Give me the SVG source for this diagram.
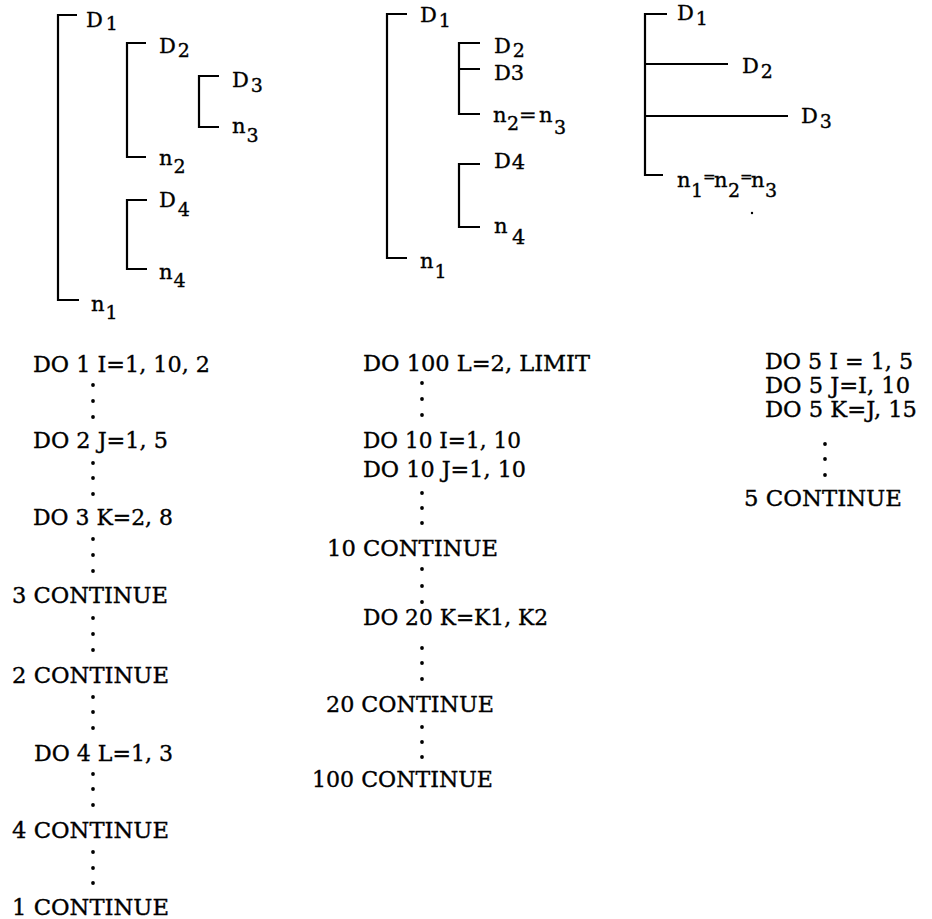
<svg xmlns="http://www.w3.org/2000/svg" width="932" height="919" viewBox="0 0 932 919">
<style>
.br{fill:none;stroke:#000;stroke-width:2.2;stroke-linecap:butt;stroke-linejoin:miter}
.lb{font-family:"DejaVu Serif","Liberation Serif",serif;font-size:21px;fill:#000;stroke:#000;stroke-width:0.35}
.sb{font-size:19px}
.eq{font-size:15px}
.cd{font-family:"DejaVu Serif","Liberation Serif",serif;font-size:22px;fill:#000;stroke:#000;stroke-width:0.35}
.dt{fill:#000}
</style>
<rect width="932" height="919" fill="#fff"/>
<g id="connectors">
  <path class="br" d="M77,15 H58 V300 H79"/>
  <path class="br" d="M146,43 H127 V157 H146"/>
  <path class="br" d="M219,76 H199 V127 H219"/>
  <path class="br" d="M147,200 H127 V269 H147"/>
  <path class="br" d="M407,14 H387 V258 H407"/>
  <path class="br" d="M480,43 H459 V114 H480 M459,69 H480"/>
  <path class="br" d="M480,164 H459 V227 H480"/>
  <path class="br" d="M667,14 H645 V175 H663 M645,64 H728 M645,116 H788"/>
</g>
<g id="diagram-left">
  <text class="lb" x="86" y="27">D<tspan class="sb" dx="3" dy="3">1</tspan></text>
  <text class="lb" x="159" y="53">D<tspan class="sb" dx="2" dy="4">2</tspan></text>
  <text class="lb" x="232" y="87">D<tspan class="sb" dx="2" dy="5">3</tspan></text>
  <text class="lb" x="232" y="133">n<tspan class="sb" dx="1" dy="9">3</tspan></text>
  <text class="lb" x="159" y="165">n<tspan class="sb" dx="1" dy="8">2</tspan></text>
  <text class="lb" x="159" y="207">D<tspan class="sb" dx="2" dy="9">4</tspan></text>
  <text class="lb" x="159" y="279">n<tspan class="sb" dx="1" dy="8">4</tspan></text>
  <text class="lb" x="91" y="311">n<tspan class="sb" dx="1" dy="8">1</tspan></text>
</g>
<g id="diagram-middle">
  <text class="lb" x="420" y="22">D<tspan class="sb" dx="2" dy="5">1</tspan></text>
  <text class="lb" x="494" y="53">D<tspan class="sb" dx="2" dy="4">2</tspan></text>
  <text class="lb" x="494" y="80">D3</text>
  <text class="lb" x="493" y="122">n<tspan class="sb" x="507" dy="8">2</tspan><tspan x="519" dy="-8">=</tspan><tspan x="539">n</tspan><tspan class="sb" x="554" dy="12">3</tspan></text>
  <text class="lb" x="494" y="168">D<tspan dx="1" dy="1">4</tspan></text>
  <text class="lb" x="494" y="233">n<tspan x="512" dy="11">4</tspan></text>
  <text class="lb" x="420" y="268">n<tspan class="sb" dx="1" dy="10">1</tspan></text>
</g>
<g id="diagram-right">
  <text class="lb" x="677" y="20">D<tspan class="sb" dx="2" dy="5">1</tspan></text>
  <text class="lb" x="742" y="73">D<tspan class="sb" dx="2" dy="5">2</tspan></text>
  <text class="lb" x="801" y="123">D<tspan class="sb" dx="2" dy="5">3</tspan></text>
  <text class="lb" x="677" y="187">n<tspan class="sb" x="691" dy="10">1</tspan><tspan class="eq" x="703" dy="-15">=</tspan><tspan x="714" dy="5">n</tspan><tspan class="sb" x="728" dy="10">2</tspan><tspan class="eq" x="740" dy="-15">=</tspan><tspan x="751" dy="5">n</tspan><tspan class="sb" x="765" dy="10">3</tspan></text>
  <circle class="dt" cx="752" cy="213" r="1.2"/>
</g>
<g id="code-left">
  <text class="cd" x="33" y="372" textLength="177" lengthAdjust="spacingAndGlyphs">DO 1 I=1, 10, 2</text>
  <text class="cd" x="33" y="448" textLength="135" lengthAdjust="spacingAndGlyphs">DO 2 J=1, 5</text>
  <text class="cd" x="33" y="525" textLength="140" lengthAdjust="spacingAndGlyphs">DO 3 K=2, 8</text>
  <text class="cd" x="12" y="603" textLength="156" lengthAdjust="spacingAndGlyphs">3 CONTINUE</text>
  <text class="cd" x="12" y="683" textLength="157" lengthAdjust="spacingAndGlyphs">2 CONTINUE</text>
  <text class="cd" x="34" y="761" textLength="139" lengthAdjust="spacingAndGlyphs">DO 4 L=1, 3</text>
  <text class="cd" x="12" y="838" textLength="157" lengthAdjust="spacingAndGlyphs">4 CONTINUE</text>
  <text class="cd" x="12" y="915" textLength="157" lengthAdjust="spacingAndGlyphs">1 CONTINUE</text>
  <g class="dt">
    <circle cx="93" cy="385" r="1.9"/><circle cx="93" cy="401" r="1.9"/><circle cx="93" cy="417" r="1.9"/>
    <circle cx="93" cy="463" r="1.9"/><circle cx="93" cy="478" r="1.9"/><circle cx="93" cy="494" r="1.9"/>
    <circle cx="93" cy="539" r="1.9"/><circle cx="93" cy="555" r="1.9"/><circle cx="93" cy="571" r="1.9"/>
    <circle cx="93" cy="618" r="1.9"/><circle cx="93" cy="634" r="1.9"/><circle cx="93" cy="650" r="1.9"/>
    <circle cx="93" cy="697" r="1.9"/><circle cx="93" cy="712" r="1.9"/><circle cx="93" cy="728" r="1.9"/>
    <circle cx="93" cy="774" r="1.9"/><circle cx="93" cy="789" r="1.9"/><circle cx="93" cy="805" r="1.9"/>
    <circle cx="93" cy="852" r="1.9"/><circle cx="93" cy="868" r="1.9"/><circle cx="93" cy="883" r="1.9"/>
  </g>
</g>
<g id="code-middle">
  <text class="cd" x="363" y="371" textLength="227" lengthAdjust="spacingAndGlyphs">DO 100 L=2, LIMIT</text>
  <text class="cd" x="363" y="448" textLength="158" lengthAdjust="spacingAndGlyphs">DO 10 I=1, 10</text>
  <text class="cd" x="363" y="477" textLength="163" lengthAdjust="spacingAndGlyphs">DO 10 J=1, 10</text>
  <text class="cd" x="327" y="556" textLength="171" lengthAdjust="spacingAndGlyphs">10 CONTINUE</text>
  <text class="cd" x="363" y="625" textLength="185" lengthAdjust="spacingAndGlyphs">DO 20 K=K1, K2</text>
  <text class="cd" x="326" y="712" textLength="168" lengthAdjust="spacingAndGlyphs">20 CONTINUE</text>
  <text class="cd" x="312" y="787" textLength="181" lengthAdjust="spacingAndGlyphs">100 CONTINUE</text>
  <g class="dt">
    <circle cx="422" cy="383" r="1.9"/><circle cx="422" cy="399" r="1.9"/><circle cx="422" cy="415" r="1.9"/>
    <circle cx="422" cy="493" r="1.9"/><circle cx="422" cy="508" r="1.9"/><circle cx="422" cy="523" r="1.9"/>
    <circle cx="422" cy="569" r="1.9"/><circle cx="422" cy="586" r="1.9"/><circle cx="422" cy="602" r="1.9"/>
    <circle cx="422" cy="648" r="1.9"/><circle cx="422" cy="663" r="1.9"/><circle cx="422" cy="679" r="1.9"/>
    <circle cx="422" cy="727" r="1.9"/><circle cx="422" cy="742" r="1.9"/><circle cx="422" cy="757" r="1.9"/>
  </g>
</g>
<g id="code-right">
  <text class="cd" x="765" y="369" textLength="148" lengthAdjust="spacingAndGlyphs">DO 5 I = 1, 5</text>
  <text class="cd" x="765" y="393" textLength="145" lengthAdjust="spacingAndGlyphs">DO 5 J=I, 10</text>
  <text class="cd" x="765" y="417" textLength="152" lengthAdjust="spacingAndGlyphs">DO 5 K=J, 15</text>
  <text class="cd" x="744" y="506" textLength="158" lengthAdjust="spacingAndGlyphs">5 CONTINUE</text>
  <g class="dt">
    <circle cx="825" cy="444" r="1.9"/><circle cx="825" cy="459" r="1.9"/><circle cx="825" cy="475" r="1.9"/>
  </g>
</g>
</svg>
